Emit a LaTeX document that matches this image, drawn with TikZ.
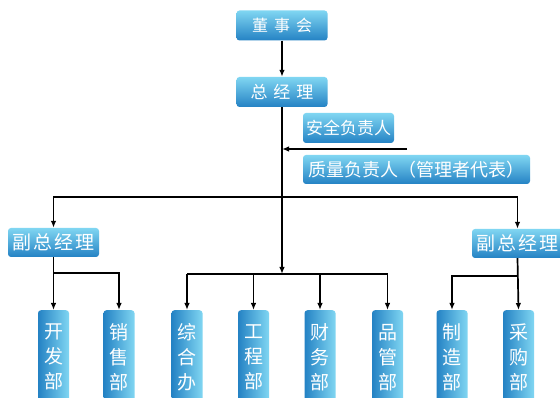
\documentclass[tikz,border=0pt]{standalone}
\usepackage{fontspec}
\newfontfamily\cjk{Noto Sans CJK SC}
\usetikzlibrary{arrows.meta,calc}
\definecolor{boxlight}{RGB}{128,214,242}
\definecolor{boxdark}{RGB}{36,130,196}
\tikzset{
  hbox/.style={rounded corners=3pt, top color=boxlight, bottom color=boxdark,
    text=white, font=\cjk, inner sep=0pt, minimum height=30pt},
  vbox/.style={rounded corners=3pt, left color=boxdark, right color=boxlight,
    text=white, font=\cjk\fontsize{19}{25}\selectfont, align=center, inner sep=0pt,
    minimum width=31pt, minimum height=94pt, anchor=north},
  conn/.style={line width=1.7pt, black},
  arr/.style={conn, -{Latex[length=7pt,width=5.5pt]}}
}
\begin{document}
\begin{tikzpicture}[x=1pt,y=1pt]
\useasboundingbox (0,0) rectangle (560,-398);
\clip (0,0) rectangle (560,-398);
\fill[white] (0,0) rectangle (560,-398);

% top-level boxes
\node[hbox, minimum width=91pt, font=\cjk\fontsize{16}{16}\selectfont] (dsh) at (282,-25.5) {董\hspace{6pt}事\hspace{6pt}会};
\node[hbox, minimum width=91pt, font=\cjk\fontsize{17}{17}\selectfont] (zjl) at (282,-92) {总\hspace{6pt}经\hspace{6pt}理};
\node[hbox, minimum width=91pt, font=\cjk\fontsize{17}{17}\selectfont] (aq) at (348.5,-128) {安全负责人};
\node[hbox, minimum width=227pt, minimum height=29pt, font=\cjk\fontsize{18}{18}\selectfont] (zl) at (416.5,-169.5) {质量负责人（管理者代表）};

% deputies
\node[hbox, minimum width=91pt, minimum height=29pt, font=\cjk\fontsize{19}{19}\selectfont] (fl) at (53.5,-242.5) {副\hspace{2pt}总\hspace{2pt}经\hspace{2pt}理};
\node[hbox, minimum width=91pt, minimum height=29pt, font=\cjk\fontsize{19}{19}\selectfont] (fr) at (517.5,-243.5) {副\hspace{2pt}总\hspace{2pt}经\hspace{2pt}理};

% departments
\node[vbox] (kfb) at (53.5,-310) {开\\发\\部};
\node[vbox] (xsb) at (119,-310) {销\\售\\部};
\node[vbox] (zhb) at (187,-310) {综\\合\\办};
\node[vbox] (gcb) at (253.5,-310) {工\\程\\部};
\node[vbox] (cwb) at (320,-310) {财\\务\\部};
\node[vbox] (pgb) at (387.5,-310) {品\\管\\部};
\node[vbox] (zzb) at (452,-310) {制\\造\\部};
\node[vbox] (cgb) at (518.5,-310) {采\\购\\部};

% helper coordinates
\coordinate (side) at (407,-149);
\coordinate (bigbus) at (282,-197);
\coordinate (cbus) at (282,-274);
\coordinate (lbus) at (0,-273);
\coordinate (rbus) at (0,-276);

% connectors
\draw[arr] (dsh.south) -- (zjl.north);
\draw[conn] (zjl.south) -- (bigbus);
\draw[arr] (bigbus) -- (cbus);
\draw[arr] (side) -- (side -| zjl.south);
\draw[arr] (bigbus) -| (fl.north);
\draw[arr] (bigbus) -| (fr.north);

\draw[conn] (cbus -| zhb.north) -- (cbus -| pgb.north);
\draw[arr] (cbus -| zhb.north) -- (zhb.north);
\draw[arr] (cbus -| gcb.north) -- (gcb.north);
\draw[arr] (cbus -| cwb.north) -- (cwb.north);
\draw[arr] (cbus -| pgb.north) -- (pgb.north);

\draw[arr] (fl.south) -- (kfb.north);
\draw[arr] (fl.south |- lbus) -| (xsb.north);

\draw[arr] (fr.south) -- (cgb.north);
\draw[arr] (fr.south |- rbus) -| (zzb.north);
\end{tikzpicture}
\end{document}
